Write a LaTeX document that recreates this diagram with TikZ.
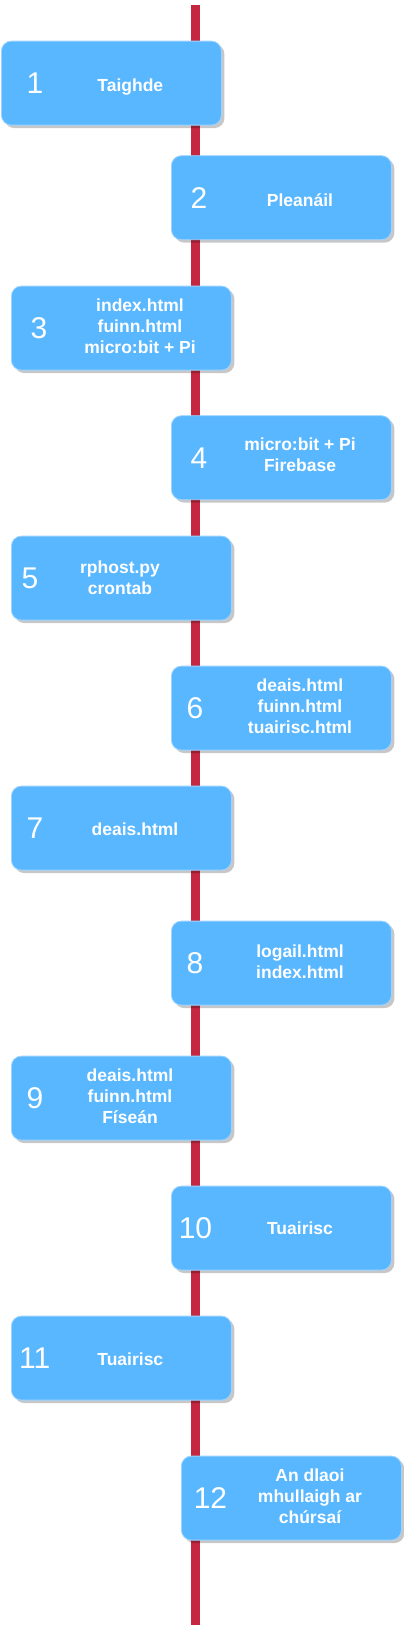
\documentclass[tikz,border=0pt]{standalone}
\usepackage{fontspec}
\setmainfont{Liberation Sans}
\usetikzlibrary{positioning,shadows}
\definecolor{Sky}{HTML}{58B7FF}
\definecolor{SkyEdge}{HTML}{9FD3FF}
\definecolor{Crimson}{HTML}{C4273F}
\tikzset{
  stepbox/.style={draw=SkyEdge,fill=Sky,line width=0.8pt,rounded corners=10pt,minimum width=220pt,minimum height=84pt,anchor=north west,inner sep=0pt,drop shadow={shadow xshift=3pt,shadow yshift=-3pt,fill=black,opacity=0.22}},
  num/.style={text=white,font=\fontsize{30}{36}\selectfont,inner sep=0pt,text height=21.5pt,text depth=0pt},
  lbl/.style={text=white,font=\fontsize{17.5}{21}\selectfont\bfseries,align=center,inner sep=0pt,execute at begin node=\strut,execute at end node=\strut},
  spine/.style={draw=Crimson,line width=9.3pt}
}
\begin{document}
\begin{tikzpicture}[x=1pt,y=-1pt]
  \useasboundingbox (0,0) rectangle (404,1630);
  % timeline
  \coordinate (top) at (195.3,5.3);
  \coordinate (bot) at (195.3,1625);
  \draw[spine] (top) -- (bot);
  % steps
  \node[stepbox] (b1) at (1,40.7) {};
  \node[stepbox] (b2) at (171,155.3) {};
  \node[stepbox] (b3) at (11,285.7) {};
  \node[stepbox] (b4) at (171,415.3) {};
  \node[stepbox] (b5) at (11,535.7) {};
  \node[stepbox] (b6) at (171,665.7) {};
  \node[stepbox] (b7) at (11,785.7) {};
  \node[stepbox] (b8) at (171,920.7) {};
  \node[stepbox] (b9) at (11,1055.7) {};
  \node[stepbox] (b10) at (171,1185.7) {};
  \node[stepbox] (b11) at (11,1315.7) {};
  \node[stepbox] (b12) at (181,1455.7) {};
  % numbers
  \node[num] (n1) at ([xshift=34pt]b1.west) {1};
  \node[num] (n2) at ([xshift=28pt]b2.west) {2};
  \node[num] (n3) at ([xshift=28pt]b3.west) {3};
  \node[num] (n4) at ([xshift=28pt]b4.west) {4};
  \node[num] (n5) at ([xshift=19pt]b5.west) {5};
  \node[num] (n6) at ([xshift=24pt]b6.west) {6};
  \node[num] (n7) at ([xshift=24pt]b7.west) {7};
  \node[num] (n8) at ([xshift=24pt]b8.west) {8};
  \node[num] (n9) at ([xshift=24pt]b9.west) {9};
  \node[num] (n10) at ([xshift=24.5pt]b10.west) {10};
  \node[num] (n11) at ([xshift=23.7pt]b11.west) {11};
  \node[num] (n12) at ([xshift=29.5pt]b12.west) {12};
  % labels
  \node[lbl] (t1) at ([xshift=129.3pt,yshift=-4.6pt]b1.west) {Taighde};
  \node[lbl] (t2) at ([xshift=129pt,yshift=-5pt]b2.west) {Pleanáil};
  \node[lbl] (t3) at ([xshift=129pt,yshift=-1.1pt]b3.west) {index.html\\fuinn.html\\micro:bit + Pi};
  \node[lbl] (t4) at ([xshift=129pt,yshift=0.2pt]b4.west) {micro:bit + Pi\\Firebase};
  \node[lbl] (t5) at ([xshift=109pt,yshift=-3.1pt]b5.west) {rphost.py\\crontab};
  \node[lbl] (t6) at ([xshift=129pt,yshift=-1.2pt]b6.west) {deais.html\\fuinn.html\\tuairisc.html};
  \node[lbl] (t7) at ([xshift=124pt,yshift=-2.9pt]b7.west) {deais.html};
  \node[lbl] (t8) at ([xshift=129pt,yshift=-1.7pt]b8.west) {logail.html\\index.html};
  \node[lbl] (t9) at ([xshift=119pt,yshift=-1.1pt]b9.west) {deais.html\\fuinn.html\\Físeán};
  \node[lbl] (t10) at ([xshift=129pt,yshift=-1.9pt]b10.west) {Tuairisc};
  \node[lbl] (t11) at ([xshift=119.3pt,yshift=-2.9pt]b11.west) {Tuairisc};
  \node[lbl] (t12) at ([xshift=129pt,yshift=-0.8pt]b12.west) {An dlaoi\\mhullaigh ar\\chúrsaí};
\end{tikzpicture}
\end{document}
